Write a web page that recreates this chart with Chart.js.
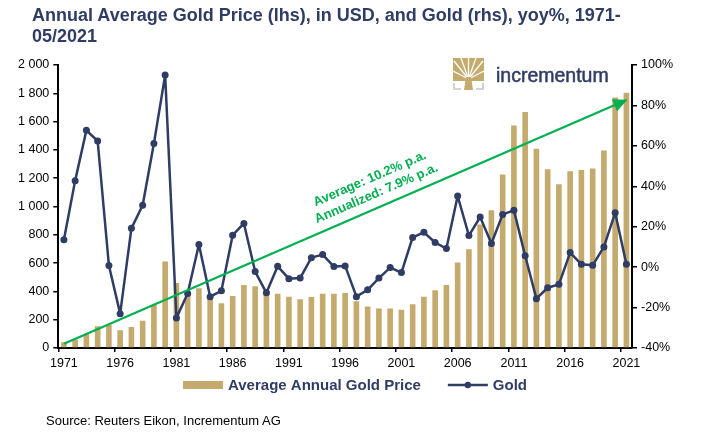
<!DOCTYPE html>
<html>
<head>
<meta charset="utf-8">
<title>Annual Average Gold Price and Gold yoy%</title>
<script src="https://cdn.jsdelivr.net/npm/chart.js@4.4.1/dist/chart.umd.min.js"></script>
<style>
    body { margin: 0; background: #fff; }
    #wrap { position: relative; width: 704px; height: 433px; overflow: hidden; }
    #chart { position: absolute; left: 0; top: 0; }
    .title {
        position: absolute; left: 32px; top: 5px;
        font: bold 18px "Liberation Sans", Arial, sans-serif;
        line-height: 21px; color: #2F3C64; white-space: nowrap;
    }
    .source {
        position: absolute; left: 46px; top: 413px;
        font: 13px "Liberation Sans", Arial, sans-serif; color: #000;
    }
    .logo-icon { position: absolute; left: 453px; top: 58px; }
    .logo-text {
        position: absolute; left: 496px; top: 65px;
        font: 19.5px "Liberation Sans", Arial, sans-serif; line-height: 20px;
        color: #2F3C64; -webkit-text-stroke: 0.5px #2F3C64;
    }
</style>
</head>
<body>
<div id="wrap">
    <canvas id="chart" width="704" height="433"></canvas>
    <div class="title">Annual Average Gold Price (lhs), in USD, and Gold (rhs), yoy%, 1971-<br>05/2021</div>
    <svg class="logo-icon" width="31" height="32" viewBox="0 0 31 32">
        <rect x="0" y="0" width="31" height="23" fill="#C4AA6C"/>
        <g stroke="#fff" stroke-width="1.3">
            <line x1="15.5" y1="21" x2="1" y2="3"/>
            <line x1="15.5" y1="21" x2="8" y2="0"/>
            <line x1="15.5" y1="21" x2="15.5" y2="0"/>
            <line x1="15.5" y1="21" x2="23" y2="0"/>
            <line x1="15.5" y1="21" x2="30" y2="3"/>
            <line x1="15.5" y1="21" x2="0" y2="13"/>
            <line x1="15.5" y1="21" x2="31" y2="13"/>
        </g>
        <path d="M11 32 L13 19 L18 19 L20 32 Z" fill="#C4AA6C"/>
        <path d="M1 25 V31 H8 M30 25 V31 H23" stroke="#d4d4d4" stroke-width="2" fill="none"/>
    </svg>
    <div class="logo-text">incrementum</div>
    <div class="source">Source: Reuters Eikon, Incrementum AG</div>
</div>

<script>
// Chart data
const years = [
    '1971', '1972', '1973', '1974', '1975', '1976', '1977', '1978', '1979', '1980',
    '1981', '1982', '1983', '1984', '1985', '1986', '1987', '1988', '1989', '1990',
    '1991', '1992', '1993', '1994', '1995', '1996', '1997', '1998', '1999', '2000',
    '2001', '2002', '2003', '2004', '2005', '2006', '2007', '2008', '2009', '2010',
    '2011', '2012', '2013', '2014', '2015', '2016', '2017', '2018', '2019', '2020',
    '2021'
];

// Average annual gold price, USD (left axis)
const goldPrice = [
    41, 58, 97, 154, 164, 125, 148, 193, 306, 612,
    460, 376, 423, 360, 317, 368, 446, 437, 381, 383,
    362, 344, 360, 384, 384, 388, 331, 294, 279, 279,
    271, 310, 363, 409, 445, 604, 697, 872, 973, 1226,
    1572, 1668, 1408, 1264, 1158, 1250, 1258, 1269, 1396, 1771,
    1804
];

// Gold, yoy % (right axis)
const goldYoy = [
    13.5, 42.8, 67.7, 62.4, 0.8, -23.0, 19.2, 30.6, 61.2, 95.0,
    -25.1, -13.0, 11.2, -14.6, -11.7, 15.8, 21.6, -2.2, -12.7, 0.4,
    -5.7, -5.4, 4.7, 6.2, 0.3, 0.6, -14.6, -11.2, -5.4, -0.2,
    -2.7, 14.7, 17.2, 12.2, 9.2, 35.2, 15.6, 24.8, 11.7, 26.1,
    28.1, 5.6, -15.6, -10.2, -8.5, 7.2, 1.4, 0.9, 10.0, 26.9,
    1.4
];

// Trend arrow: start value and arrow tip value (left axis, USD)
const trendStart = 30;
const trendEnd = 1752;
const trendEndIndex = years.length - 1;

const leftTicks = [0, 200, 400, 600, 800, 1000, 1200, 1400, 1600, 1800, 2000];
const rightTicks = [-40, -20, 0, 20, 40, 60, 80, 100];

const legendItems = ['Average Annual Gold Price', 'Gold'];

const GOLD = '#C4AA6C';
const NAVY = '#2F3C64';
const GREEN = '#00B050';
const FONT = '"Liberation Sans", Arial, sans-serif';

const trendData = years.map((y, i) => {
    if (i === 0) return trendStart;
    if (i === trendEndIndex) return trendEnd;
    return null;
});

// Thousands with a space, like "1 800"
function formatThousands(v) {
    if (v < 1000) return String(v);
    return Math.floor(v / 1000) + ' ' + String(v % 1000).padStart(3, '0');
}

// Arrow head and green text along the trend line
const trendLabelPlugin = {
    id: 'trendLabel',
    afterDatasetsDraw(chart) {
        const meta = chart.getDatasetMeta(2);
        const p0 = meta.data[0];
        const p1 = meta.data[trendEndIndex];
        if (!p0 || !p1) return;
        const ctx = chart.ctx;
        const angle = Math.atan2(p1.y - p0.y, p1.x - p0.x);

        // arrow head, tip at the last point
        ctx.save();
        ctx.translate(p1.x, p1.y);
        ctx.rotate(angle);
        ctx.fillStyle = GREEN;
        ctx.beginPath();
        ctx.moveTo(1, 0);
        ctx.lineTo(-13, -6.5);
        ctx.lineTo(-13, 6.5);
        ctx.closePath();
        ctx.fill();
        ctx.restore();

        // label text
        const t = 0.565;
        const cx = p0.x + (p1.x - p0.x) * t;
        const cy = p0.y + (p1.y - p0.y) * t;
        ctx.save();
        ctx.translate(cx, cy);
        ctx.rotate(angle);
        ctx.fillStyle = GREEN;
        ctx.font = 'bold 13px ' + FONT;
        ctx.textAlign = 'center';
        ctx.textBaseline = 'alphabetic';
        ctx.fillText('Average: 10.2% p.a.', 0, -26);
        ctx.fillText('Annualized: 7.9% p.a.', 0, -10);
        ctx.restore();
    }
};

// Legend drawn under the x axis: gold box + text, navy line with dot + text
const customLegendPlugin = {
    id: 'customLegend',
    afterDraw(chart) {
        const ctx = chart.ctx;
        const y = chart.chartArea.bottom + 37;
        const boxW = 40;
        const gapText = 5;
        const gapItems = 27;
        ctx.save();
        ctx.font = 'bold 15px ' + FONT;
        const w0 = ctx.measureText(legendItems[0]).width;
        const w1 = ctx.measureText(legendItems[1]).width;
        const total = boxW + gapText + w0 + gapItems + boxW + gapText + w1;
        let x = chart.width / 2 + 3 - total / 2;

        ctx.fillStyle = GOLD;
        ctx.fillRect(x, y - 4, boxW, 8);
        x += boxW + gapText;
        ctx.fillStyle = NAVY;
        ctx.textBaseline = 'middle';
        ctx.textAlign = 'left';
        ctx.fillText(legendItems[0], x, y + 1);
        x += w0 + gapItems;

        ctx.strokeStyle = NAVY;
        ctx.lineWidth = 2.5;
        ctx.beginPath();
        ctx.moveTo(x, y);
        ctx.lineTo(x + boxW, y);
        ctx.stroke();
        ctx.beginPath();
        ctx.arc(x + boxW / 2, y, 3.2, 0, Math.PI * 2);
        ctx.fill();
        x += boxW + gapText;
        ctx.fillText(legendItems[1], x, y + 1);
        ctx.restore();
    }
};

const ctx = document.getElementById('chart');

new Chart(ctx, {
    data: {
        labels: years,
        datasets: [
            {
                type: 'bar',
                label: legendItems[0],
                data: goldPrice,
                backgroundColor: GOLD,
                yAxisID: 'y',
                barPercentage: 0.5,
                categoryPercentage: 1.0,
                order: 3
            },
            {
                type: 'line',
                label: legendItems[1],
                data: goldYoy,
                borderColor: NAVY,
                backgroundColor: NAVY,
                borderWidth: 2.5,
                borderJoinStyle: 'round',
                pointRadius: 3.5,
                pointBackgroundColor: NAVY,
                pointBorderWidth: 0,
                tension: 0,
                yAxisID: 'y1',
                order: 2
            },
            {
                type: 'line',
                label: 'Trend',
                data: trendData,
                spanGaps: true,
                borderColor: GREEN,
                borderWidth: 2.2,
                pointRadius: 0,
                yAxisID: 'y',
                order: 1
            }
        ]
    },
    options: {
        responsive: false,
        animation: false,
        layout: {
            padding: { top: 65, right: 27, bottom: 58, left: 14 }
        },
        scales: {
            x: {
                type: 'category',
                offset: true,
                border: { color: '#000', width: 2 },
                grid: {
                    offset: true,
                    drawOnChartArea: false,
                    drawTicks: true,
                    tickLength: 4,
                    lineWidth: 1.5,
                    color: (c) => (c.index % 5 === 0 ? '#000' : 'rgba(0,0,0,0)')
                },
                ticks: {
                    autoSkip: false,
                    maxRotation: 0,
                    padding: 4,
                    color: '#000',
                    font: { family: FONT, size: 12.5 },
                    callback: (v, i) => (i % 5 === 0 ? years[i] : '')
                }
            },
            y: {
                position: 'left',
                min: 0,
                max: 2000,
                border: { color: '#000', width: 2 },
                grid: { drawOnChartArea: false, tickLength: 5, color: '#000', lineWidth: 1.5 },
                afterBuildTicks: (axis) => { axis.ticks = leftTicks.map(v => ({ value: v })); },
                ticks: {
                    padding: 4,
                    color: '#000',
                    font: { family: FONT, size: 12.5 },
                    callback: (v) => formatThousands(v)
                }
            },
            y1: {
                position: 'right',
                min: -40,
                max: 100,
                border: { color: '#000', width: 2 },
                grid: { drawOnChartArea: false, tickLength: 5, color: '#000', lineWidth: 1.5 },
                afterBuildTicks: (axis) => { axis.ticks = rightTicks.map(v => ({ value: v })); },
                ticks: {
                    padding: 4,
                    color: '#000',
                    font: { family: FONT, size: 12.5 },
                    callback: (v) => v + '%'
                }
            }
        },
        plugins: {
            title: { display: false },
            tooltip: { enabled: false },
            legend: { display: false }
        }
    },
    plugins: [trendLabelPlugin, customLegendPlugin]
});
</script>
</body>
</html>
